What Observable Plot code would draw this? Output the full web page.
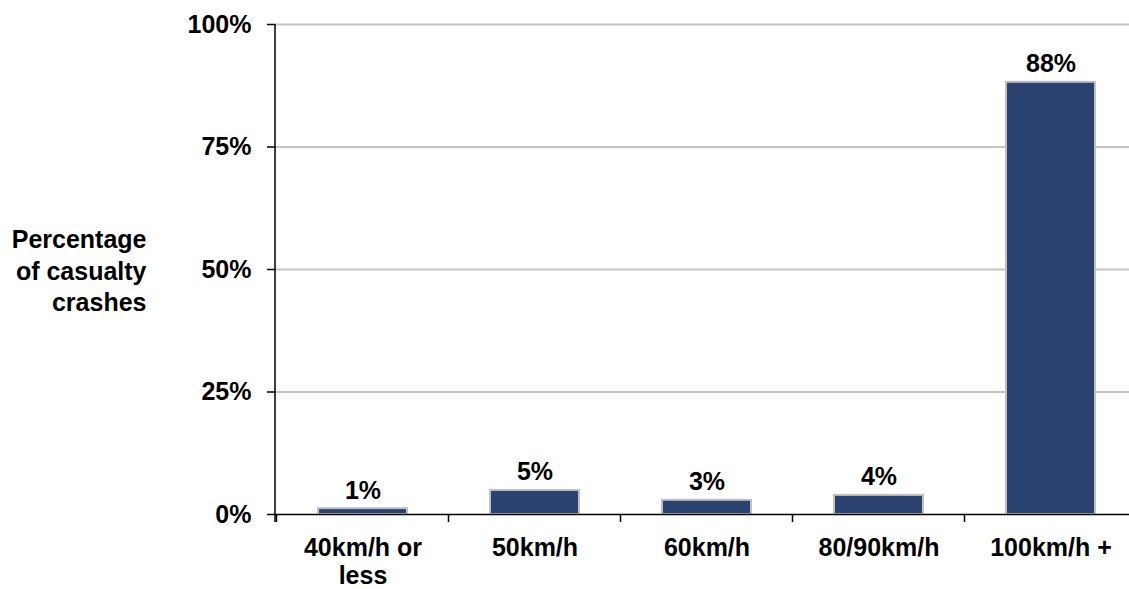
<!DOCTYPE html>
<html><head><meta charset="utf-8">
<script src="https://cdn.jsdelivr.net/npm/d3@7"></script>
<script src="https://cdn.jsdelivr.net/npm/@observablehq/plot@0.6"></script>
<style>body{margin:0;background:#fff;overflow:hidden} #chart svg{display:block;overflow:visible}</style>
</head><body><div id="chart"></div>
<script>
const categories = ["40km/h or less", "50km/h", "60km/h", "80/90km/h", "100km/h +"];
const tickLabels = ["40km/h or\nless", "50km/h", "60km/h", "80/90km/h", "100km/h +"];
const values = [1.2, 4.9, 2.9, 3.9, 88.2];
const valueLabels = ["1%", "5%", "3%", "4%", "88%"];
const yTicks = [0, 25, 50, 75, 100];
const gridTicks = [25, 50, 75, 100];
const yLabel = "Percentage\nof casualty\ncrashes";

const data = categories.map((c, i) => ({category: c, value: values[i], label: valueLabels[i], tick: tickLabels[i]}));

function axisLines(...args) {
  const scales = args.find(a => a && typeof a.x === "function" && typeof a.y === "function");
  const x = scales.x, y = scales.y;
  const step = x.step(), bw = x.bandwidth();
  const r0 = x.range()[0];
  const g = d3.create("svg:g").attr("stroke", "black").attr("stroke-width", 1.5);
  const y0 = y(0), y1 = y(100);
  g.append("line").attr("x1", r0).attr("x2", r0).attr("y1", y1).attr("y2", y0 + 8);
  const bounds = categories.map(c => x(c) - (step - bw) / 2);
  bounds.push(bounds[bounds.length - 1] + step);
  for (const b of bounds) {
    g.append("line").attr("x1", b).attr("x2", b).attr("y1", y0).attr("y2", y0 + 8);
  }
  return g.node();
}

const chart = Plot.plot({
  width: 1129,
  height: 589,
  marginLeft: 275,
  marginRight: -10,
  marginTop: 24,
  marginBottom: 75,
  style: {fontFamily: "'Liberation Sans', Arial, sans-serif", fontSize: "25px", fontWeight: "bold", color: "black", background: "white"},
  x: {domain: categories, paddingInner: 0.48, paddingOuter: 0.24, axis: null},
  y: {domain: [0, 100], axis: null},
  marks: [
    Plot.ruleY(gridTicks, {stroke: "#c4c4c4", strokeWidth: 2}),
    Plot.barY(data, {x: "category", y: "value", fill: "#2b4170", stroke: "#c0c0c0", strokeWidth: 2}),
    Plot.ruleY([0], {stroke: "black", strokeWidth: 1.5}),
    axisLines,
    Plot.axisY(yTicks, {tickSize: 8, tickPadding: 16, tickFormat: d => d + "%", strokeWidth: 1.5, label: null, fontSize: 25}),
    Plot.text(data, {x: "category", y: "value", text: "label", dy: -10, lineAnchor: "bottom", fontSize: 25, fontWeight: "bold"}),
    Plot.text(data, {x: "category", frameAnchor: "bottom", text: "tick", dy: 22, lineAnchor: "top", lineHeight: 1.1, fontSize: 25, fontWeight: "bold"}),
    Plot.text([yLabel], {frameAnchor: "left", text: d => d, dx: -129, textAnchor: "end", lineAnchor: "middle", lineHeight: 1.25, fontSize: 25, fontWeight: "bold"})
  ]
});
document.getElementById("chart").appendChild(chart);
</script>
</body></html>
